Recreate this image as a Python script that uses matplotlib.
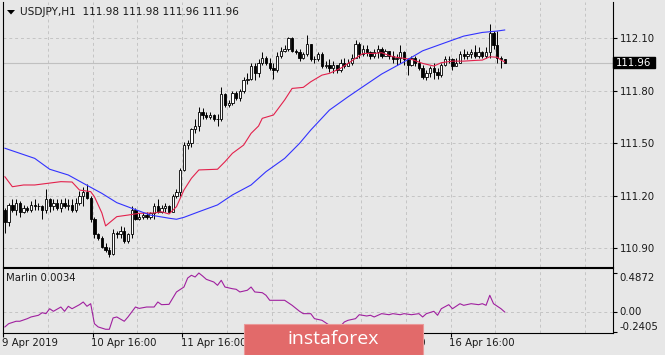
import numpy as np
import matplotlib.pyplot as plt
from matplotlib.patches import Rectangle, Polygon
from matplotlib.transforms import blended_transform_factory, ScaledTranslation, Bbox, TransformedBbox

# USDJPY H1 candles, 9 Apr 16:00 .. 17 Apr 2019
opens = [111.12, 111.05, 111.15, 111.12, 111.16, 111.11, 111.13, 111.12, 111.15, 111.14,
         111.14, 111.12, 111.18, 111.14, 111.16, 111.13, 111.16, 111.14, 111.15, 111.12,
         111.16, 111.20, 111.22, 111.19, 111.07, 110.98, 110.96, 110.91, 110.89, 110.87,
         110.99, 110.98, 111.00, 110.94, 110.98, 111.12, 111.07, 111.08, 111.09, 111.08,
         111.10, 111.14, 111.11, 111.13, 111.14, 111.11, 111.20, 111.22, 111.35, 111.49,
         111.50, 111.58, 111.60, 111.68, 111.66, 111.65, 111.66, 111.64, 111.64, 111.78,
         111.72, 111.73, 111.79, 111.76, 111.80, 111.86, 111.87, 111.94, 111.90, 111.96,
         111.99, 111.96, 111.93, 111.92, 112.00, 112.03, 112.04, 112.10, 112.03, 112.02,
         111.99, 112.01, 112.07, 111.98, 111.98, 112.01, 111.94, 111.95, 111.93, 111.95,
         111.92, 111.96, 111.94, 111.96, 111.99, 112.07, 112.01, 112.04, 112.02, 112.00,
         112.02, 112.04, 112.00, 112.03, 112.00, 111.98, 111.99, 112.02, 111.98, 111.95,
         111.99, 111.96, 111.93, 111.88, 111.90, 111.93, 111.91, 111.89, 111.95, 111.98,
         111.98, 111.94, 111.96, 112.01, 112.00, 112.01, 112.02, 112.00, 112.02, 112.00,
         112.02, 112.13, 112.06, 111.99, 111.98]
highs = [111.13, 111.16, 111.18, 111.18, 111.17, 111.15, 111.14, 111.17, 111.18, 111.16,
         111.15, 111.24, 111.19, 111.18, 111.18, 111.18, 111.19, 111.18, 111.18, 111.19,
         111.23, 111.25, 111.27, 111.20, 111.08, 110.99, 110.97, 110.93, 110.91, 111.01,
         111.00, 111.03, 111.02, 110.99, 111.14, 111.13, 111.10, 111.11, 111.11, 111.11,
         111.16, 111.18, 111.15, 111.16, 111.15, 111.21, 111.24, 111.36, 111.51, 111.52,
         111.59, 111.64, 111.71, 111.70, 111.68, 111.68, 111.67, 111.67, 111.82, 111.79,
         111.75, 111.80, 111.80, 111.81, 111.88, 111.90, 111.96, 111.96, 111.98, 112.02,
         112.00, 111.99, 111.96, 112.02, 112.05, 112.06, 112.11, 112.11, 112.04, 112.04,
         112.02, 112.12, 112.07, 112.00, 112.02, 112.02, 111.97, 111.98, 111.97, 111.95,
         111.98, 111.99, 111.98, 112.01, 112.09, 112.08, 112.06, 112.06, 112.03, 112.04,
         112.06, 112.05, 112.04, 112.03, 112.03, 112.01, 112.06, 112.03, 111.99, 112.00,
         112.00, 111.98, 111.95, 111.92, 111.94, 111.96, 111.93, 111.96, 112.00, 112.00,
         111.99, 111.99, 112.03, 112.04, 112.03, 112.04, 112.06, 112.05, 112.03, 112.05,
         112.18, 112.14, 112.14, 112.00, 111.98]
lows = [110.99, 111.03, 111.11, 111.09, 111.08, 111.10, 111.11, 111.11, 111.12, 111.12,
        111.07, 111.10, 111.11, 111.12, 111.12, 111.11, 111.13, 111.12, 111.11, 111.11,
        111.15, 111.14, 111.18, 111.05, 110.96, 110.95, 110.90, 110.88, 110.85, 110.86,
        110.96, 110.96, 110.93, 110.93, 110.96, 111.06, 111.06, 111.07, 111.07, 111.07,
        111.07, 111.10, 111.10, 111.11, 111.10, 111.11, 111.19, 111.20, 111.34, 111.47,
        111.48, 111.56, 111.57, 111.64, 111.64, 111.64, 111.63, 111.60, 111.63, 111.71,
        111.71, 111.72, 111.75, 111.74, 111.79, 111.84, 111.86, 111.86, 111.88, 111.95,
        111.95, 111.92, 111.87, 111.91, 111.99, 112.02, 112.03, 112.02, 112.01, 111.97,
        111.98, 112.00, 111.97, 111.96, 111.97, 111.93, 111.93, 111.91, 111.90, 111.90,
        111.91, 111.93, 111.94, 111.95, 111.99, 111.99, 112.00, 112.00, 111.98, 111.99,
        111.99, 111.99, 112.00, 111.98, 111.96, 111.95, 111.96, 111.95, 111.89, 111.94,
        111.94, 111.92, 111.87, 111.86, 111.88, 111.87, 111.87, 111.88, 111.94, 111.96,
        111.92, 111.94, 111.96, 111.98, 111.98, 111.99, 111.99, 111.99, 111.99, 111.99,
        111.99, 112.04, 111.96, 111.93, 111.96]
closes = [111.05, 111.15, 111.12, 111.16, 111.11, 111.13, 111.12, 111.15, 111.14, 111.14,
          111.12, 111.18, 111.14, 111.16, 111.13, 111.16, 111.14, 111.15, 111.12, 111.16,
          111.20, 111.22, 111.19, 111.07, 110.98, 110.96, 110.91, 110.89, 110.87, 110.99,
          110.98, 111.00, 110.94, 110.98, 111.12, 111.07, 111.08, 111.09, 111.08, 111.10,
          111.14, 111.11, 111.13, 111.14, 111.11, 111.20, 111.22, 111.35, 111.49, 111.50,
          111.58, 111.60, 111.68, 111.66, 111.65, 111.66, 111.64, 111.64, 111.78, 111.72,
          111.73, 111.79, 111.76, 111.80, 111.86, 111.87, 111.94, 111.90, 111.96, 111.99,
          111.96, 111.93, 111.92, 112.00, 112.03, 112.04, 112.10, 112.03, 112.02, 111.99,
          112.01, 112.07, 111.98, 111.98, 112.01, 111.94, 111.95, 111.93, 111.95, 111.92,
          111.96, 111.94, 111.96, 111.99, 112.07, 112.01, 112.04, 112.02, 112.00, 112.02,
          112.04, 112.00, 112.03, 112.00, 111.98, 111.99, 112.02, 111.98, 111.95, 111.99,
          111.96, 111.93, 111.88, 111.90, 111.93, 111.91, 111.89, 111.95, 111.98, 111.98,
          111.94, 111.96, 112.01, 112.00, 112.01, 112.02, 112.00, 112.02, 112.00, 112.02,
          112.13, 112.06, 111.99, 111.98, 111.96]

# fast (red) and slow (blue) moving averages, sampled at bar indices
red_bars = [0, 2, 5, 8, 15, 18, 20, 23, 24, 26, 27, 30, 33, 36, 40, 42, 44, 46, 48, 50,
            52, 57, 59, 61, 64, 66, 68, 69, 72, 75, 77, 80, 82, 85, 87, 90, 92, 94, 96, 99,
            101, 104, 107, 109, 112, 115, 117, 120, 123, 126, 128, 130, 132, 133, 134]
red_ma = [111.309, 111.252, 111.262, 111.262, 111.281, 111.279, 111.233, 111.224, 111.195, 111.102,
          111.028, 111.081, 111.090, 111.100, 111.102, 111.109, 111.096, 111.138, 111.233, 111.300,
          111.348, 111.352, 111.395, 111.443, 111.490, 111.557, 111.599, 111.643, 111.662, 111.748,
          111.814, 111.820, 111.852, 111.890, 111.900, 111.929, 111.957, 111.986, 112.014, 112.014,
          112.018, 111.995, 111.986, 111.980, 111.957, 111.942, 111.961, 111.970, 111.970, 111.974,
          111.976, 111.995, 111.992, 111.976, 111.966]
blue_bars = [0, 8, 12, 17, 21, 26, 30, 34, 39, 44, 46, 48, 52, 57, 61, 66, 70, 75, 79, 82,
             87, 92, 96, 101, 107, 112, 118, 123, 128, 132, 134]
blue_ma = [111.472, 111.414, 111.352, 111.319, 111.272, 111.214, 111.161, 111.129, 111.090, 111.072,
           111.066, 111.077, 111.109, 111.148, 111.205, 111.262, 111.338, 111.414, 111.500, 111.576,
           111.690, 111.766, 111.824, 111.896, 111.966, 112.029, 112.075, 112.113, 112.134, 112.142,
           112.148]

# Marlin oscillator
marlin_bars = [0, 1, 3, 4, 6, 7, 9, 10, 11, 12, 13, 15, 16, 17, 18, 20, 21, 22, 23, 24,
               25, 27, 28, 29, 30, 32, 33, 35, 36, 38, 40, 41, 42, 44, 46, 48, 49, 50, 51, 52,
               53, 54, 56, 57, 58, 59, 61, 62, 63, 65, 66, 67, 69, 70, 71, 74, 75, 77, 79, 80,
               82, 83, 85, 87, 88, 90, 91, 92, 94, 95, 97, 98, 99, 101, 103, 104, 106, 107, 109, 111,
               112, 113, 115, 116, 117, 119, 120, 122, 123, 125, 127, 128, 129, 130, 131, 133, 134]
marlin = [-0.181, -0.141, -0.111, -0.111, -0.079, -0.058, -0.037, -0.005, -0.017, 0.044,
          0.012, 0.065, 0.012, 0.074, 0.044, 0.094, 0.127, 0.074, 0.106, -0.141,
          -0.181, -0.210, -0.210, -0.070, -0.058, -0.111, -0.058, 0.065, 0.048, 0.065,
          0.065, 0.127, 0.094, 0.098, 0.251, 0.312, 0.423, 0.457, 0.436, 0.485,
          0.448, 0.407, 0.374, 0.333, 0.395, 0.312, 0.291, 0.284, 0.251, 0.272,
          0.312, 0.251, 0.242, 0.210, 0.148, 0.148, 0.148, 0.086, 0.012, -0.017,
          -0.017, -0.079, -0.099, -0.160, -0.240, -0.170, -0.120, -0.099, -0.079, -0.030,
          -0.046, -0.037, -0.058, -0.017, -0.030, -0.017, -0.030, -0.017, -0.030, -0.017,
          -0.058, -0.017, 0.012, -0.037, 0.044, 0.094, 0.044, 0.106, 0.086, 0.106,
          0.094, 0.106, 0.086, 0.210, 0.106, 0.044, 0.0034]

price_ticks = [112.10, 111.80, 111.50, 111.20, 110.90]
marlin_ticks = [0.4872, 0.0, -0.2405]
marlin_tick_labels = ['0.4872', '0.00', '-0.2405']
date_bars = [0, 24, 48, 96, 120]
date_labels = ['9 Apr 2019', '10 Apr 16:00', '11 Apr 16:00', '15 Apr 16:00', '16 Apr 16:00']
last_price = 111.96

W, H = 665, 355
bg = '#e7e7e7'
grid_c = '#c4c4c4'
txt_c = '#1a1a1a'
fs = 7.3


def fx(px):
    return px / W


def fy(py):
    return 1 - py / H


fig = plt.figure(figsize=(W / 100, H / 100), dpi=100, facecolor=bg)
ax = fig.add_axes([fx(3), fy(266.5), fx(612.5) - fx(3), fy(2) - fy(266.5)], facecolor=bg)
sub = fig.add_axes([fx(3), fy(333), fx(612.5) - fx(3), fy(268) - fy(333)], facecolor=bg)

xlim = (-0.51, 162.9)

# grid
for gx in np.arange(11.5, 163, 12):
    ax.axvline(gx, color=grid_c, lw=0.7, ls=(0, (3, 3)), zorder=1)
    sub.axvline(gx, color=grid_c, lw=0.7, ls=(0, (3, 3)), zorder=1)
for p in price_ticks:
    ax.axhline(p, color=grid_c, lw=0.7, ls=(0, (3, 3)), zorder=1)
sub.axhline(0, color=grid_c, lw=0.7, ls=(0, (3, 3)), zorder=1)
ax.axhline(last_price, color='#c0c0c0', lw=0.8, zorder=1.5)

# candles
o = np.array(opens)
h = np.array(highs)
l = np.array(lows)
c = np.array(closes)
x = np.arange(len(c))
up = c >= o
ax.vlines(x, l, h, color='black', lw=0.7, zorder=3)
bot = np.minimum(o, c)
hgt = np.abs(c - o)
ax.bar(x[up], hgt[up], bottom=bot[up], width=0.62, color='white',
       edgecolor='black', linewidth=0.6, zorder=4)
ax.bar(x[~up], hgt[~up], bottom=bot[~up], width=0.62, color='black',
       edgecolor='black', linewidth=0.6, zorder=4)

# moving averages
ax.plot(red_bars, red_ma, color='#e3214c', lw=0.8, zorder=5)
ax.plot(blue_bars, blue_ma, color='#3232ff', lw=0.8, zorder=5)

ax.set_xlim(*xlim)
ax.set_ylim(110.796, 112.308)
ax.yaxis.tick_right()
ax.set_yticks(price_ticks)
ax.set_yticklabels(['%.2f' % p for p in price_ticks])
ax.tick_params(axis='y', length=3, width=0.8, pad=2, labelsize=fs, labelcolor=txt_c)
ax.tick_params(axis='x', bottom=False, labelbottom=False)
ax.spines['top'].set_visible(False)
for s in ['left', 'right', 'bottom']:
    ax.spines[s].set_linewidth(0.8)
    ax.spines[s].set_color('black')

# current price box
tr = blended_transform_factory(ax.transAxes, ax.transData)
ax.add_patch(Rectangle((1.0013, last_price - 0.0315), 0.0684, 0.063, transform=tr,
                       fc='black', ec='black', clip_on=False, zorder=10))
ax.text(1.0057, last_price, '%.2f' % last_price, transform=tr, color='white',
        fontsize=fs, ha='left', va='center', zorder=11, clip_on=False)

# Marlin panel
sub.plot(marlin_bars, marlin, color='#a0209f', lw=0.8, zorder=3)
sub.set_xlim(*xlim)
sub.set_ylim(-0.256, 0.547)
sub.yaxis.tick_right()
sub.set_yticks(marlin_ticks)
sub.set_yticklabels(marlin_tick_labels)
for lbl, va in zip(sub.get_yticklabels(), ['top', 'center', 'bottom']):
    lbl.set_va(va)
sub.tick_params(axis='y', length=3, width=0.8, pad=2, labelsize=fs, labelcolor=txt_c)
sub.set_xticks([b - 0.5 for b in date_bars])
sub.tick_params(axis='x', length=3, width=0.8, labelbottom=False)
for s in sub.spines.values():
    s.set_linewidth(0.8)
    s.set_color('black')

# watermark box (figure pixels)
wm_left, wm_right, wm_top = 243.5, 422.5, 323.5

dtr = blended_transform_factory(sub.transData, sub.transAxes) + \
    ScaledTranslation(-3 / 100, 0, fig.dpi_scale_trans)
# only the part of a date label right of the watermark shows
visible = TransformedBbox(Bbox([[fx(wm_right), 0], [1, 1]]), fig.transFigure)
for b, lab in zip(date_bars, date_labels):
    t = sub.text(b, -0.155, lab, transform=dtr, fontsize=fs, color=txt_c,
                 ha='left', va='center', clip_on=False)
    if b == 96:
        t.set_clip_on(True)
        t.set_clip_box(visible)

# header texts
fig.patches.append(Polygon([[fx(7), fy(10)], [fx(15), fy(10)], [fx(11), fy(14.5)]],
                           closed=True, transform=fig.transFigure, fc='black', ec='none'))
fig.text(fx(20), fy(12), 'USDJPY,H1  111.98 111.98 111.96 111.96', fontsize=7.6,
         color=txt_c, ha='left', va='center')
fig.text(fx(6.5), fy(278), 'Marlin 0.0034', fontsize=fs, color=txt_c, ha='left', va='center')

# watermark
fig.patches.append(Rectangle((fx(wm_left), fy(355)), fx(wm_right) - fx(wm_left), fy(wm_top) - fy(355),
                             transform=fig.transFigure, fc='#e26a6a', ec='#ea9898',
                             lw=0.8, zorder=10))
fig.text(fx(333), fy(339), 'instaforex', fontsize=14, family='Open Sans', color='white',
         ha='center', va='center', zorder=11)

fig.savefig('out.png', dpi=100, facecolor=bg)
